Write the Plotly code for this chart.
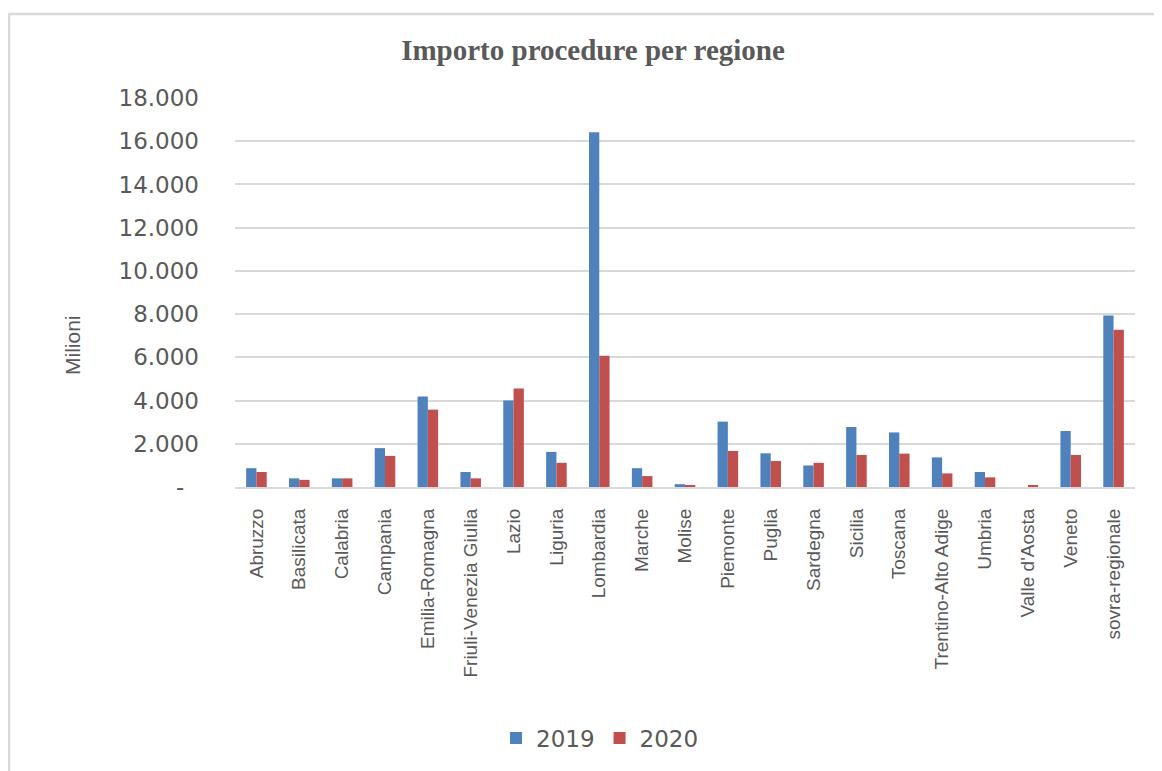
import plotly.graph_objects as go

regioni = ["Abruzzo", "Basilicata", "Calabria", "Campania", "Emilia-Romagna",
           "Friuli-Venezia Giulia", "Lazio", "Liguria", "Lombardia", "Marche",
           "Molise", "Piemonte", "Puglia", "Sardegna", "Sicilia", "Toscana",
           "Trentino-Alto Adige", "Umbria", "Valle d'Aosta", "Veneto",
           "sovra-regionale"]
valori_2019 = [870, 400, 400, 1800, 4190, 695, 4000, 1625, 16420, 870,
               130, 3025, 1560, 995, 2775, 2525, 1370, 695, 0, 2590, 7930]
valori_2020 = [695, 330, 400, 1440, 3580, 400, 4560, 1120, 6070, 505,
               80, 1670, 1200, 1120, 1485, 1545, 630, 445, 80, 1485, 7275]
tick_vals = [0, 2000, 4000, 6000, 8000, 10000, 12000, 14000, 16000, 18000]
tick_text = ["-\u00a0\u00a0", "2.000", "4.000", "6.000", "8.000", "10.000",
             "12.000", "14.000", "16.000", "18.000"]

GRAY = "#595959"
GRID = "#d9d9d9"

fig = go.Figure()
fig.add_trace(go.Bar(name="2019", x=regioni, y=valori_2019,
                     marker=dict(color="#4F81BD", line=dict(width=0))))
fig.add_trace(go.Bar(name="2020", x=regioni, y=valori_2020,
                     marker=dict(color="#C0504D", line=dict(width=0))))

OFF = 8  # page body margin
W, H = 1162, 771
L, T = 235 - OFF, 98 - OFF
R = W - (1135 - OFF)
B = H - (487 - OFF)
pw, ph = W - L - R, H - T - B

def px2x(px):
    return (px - OFF - L) / pw

def py2y(py):
    return (H - B - (py - OFF)) / ph

fig.update_layout(
    width=W, height=H,
    margin=dict(l=L, r=R, t=T, b=B),
    paper_bgcolor="white", plot_bgcolor="white",
    barmode="group", bargap=0.52, bargroupgap=0,
    title=dict(text="<b>Importo procedure per regione</b>",
               x=(593 - OFF) / W, xanchor="center", y=1 - (50 - OFF) / H,
               yanchor="middle",
               font=dict(family="Liberation Serif", size=29, color=GRAY)),
    showlegend=True,
    legend=dict(orientation="h", x=px2x(600), xanchor="center",
                y=py2y(738), yanchor="middle",
                font=dict(family="DejaVu Sans", size=23, color=GRAY),
                itemwidth=30, traceorder="normal"),
    xaxis=dict(tickangle=-90, showgrid=False, showline=True, linecolor=GRID,
               linewidth=2, ticks="", ticklabelstandoff=12,
               tickfont=dict(family="Liberation Sans", size=19, color=GRAY)),
    yaxis=dict(range=[0, 18000], tickvals=tick_vals, ticktext=tick_text,
               showgrid=True, gridcolor=GRID, gridwidth=2, zeroline=False,
               showline=False, ticks="", ticklabelstandoff=35,
               tickfont=dict(family="DejaVu Sans", size=23, color=GRAY)),
    annotations=[dict(text="Milioni", xref="paper", yref="paper",
                      x=px2x(72), y=py2y(345), textangle=-90,
                      showarrow=False, xanchor="center", yanchor="middle",
                      font=dict(family="Liberation Sans", size=21, color=GRAY))],
    shapes=[
        dict(type="line", xref="paper", yref="paper",
             x0=px2x(8), x1=px2x(1180), y0=py2y(14), y1=py2y(14),
             line=dict(color=GRID, width=2.5)),
        dict(type="line", xref="paper", yref="paper",
             x0=px2x(9), x1=px2x(9), y0=py2y(14), y1=py2y(790),
             line=dict(color=GRID, width=2.5)),
    ],
)

fig.write_html("out.html")
